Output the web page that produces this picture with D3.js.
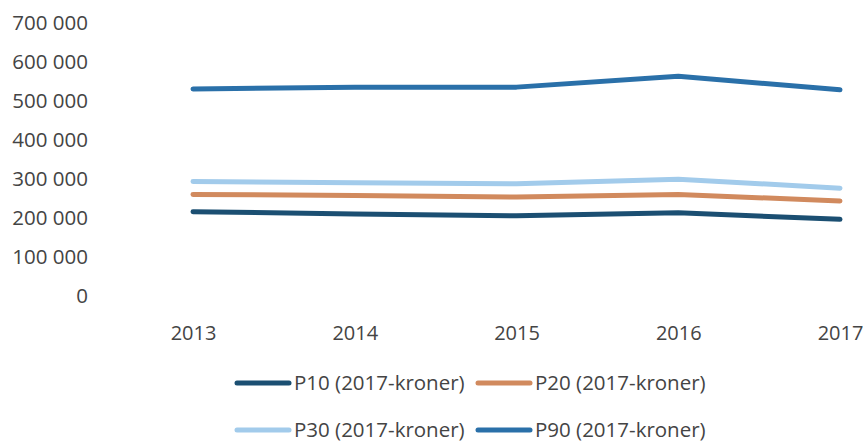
<!DOCTYPE html>
<head>
  <meta charset="utf-8">
  <script src="https://cdn.jsdelivr.net/npm/d3@7"></script>
  <style>
    body { margin: 0; background: #fff; }
    text { font-family: "Open Sans", sans-serif; fill: #444; }
  </style>
</head>
<body>
<svg width="863" height="444"></svg>
<script>
// Data
var years = ["2013", "2014", "2015", "2016", "2017"];
var p10 = [213500, 208000, 203000, 211000, 194000];
var p20 = [258000, 255000, 251000, 258000, 241000];
var p30 = [291000, 288000, 285000, 297000, 274000];
var p90 = [528000, 533000, 533000, 561000, 526000];
var seriesNames = ["P10 (2017-kroner)", "P20 (2017-kroner)", "P30 (2017-kroner)", "P90 (2017-kroner)"];
var yTicks = [0, 100000, 200000, 300000, 400000, 500000, 600000, 700000];

var colors = ["#1b4f72", "#d18a5e", "#a2cbeb", "#2a70a9"];
var series = [p10, p20, p30, p90];

var svg = d3.select("svg");

var x = d3.scalePoint().domain(years).range([193, 840]);
var y = d3.scaleLinear().domain([0, 700000]).range([295, 22]);

var fmt = function(d) { return d3.format(",")(d).replace(/,/g, " "); };

// y axis labels (no line, no ticks)
var yAxis = svg.append("g")
  .attr("transform", "translate(88,0)")
  .call(d3.axisLeft(y).tickValues(yTicks).tickFormat(fmt).tickSize(0).tickPadding(0));
yAxis.select(".domain").remove();
yAxis.selectAll("text").style("font-size", "20.5px").attr("fill", "#474747").attr("dy", "0.35em");

// x axis labels
var xAxis = svg.append("g")
  .attr("transform", "translate(0,326)")
  .call(d3.axisBottom(x).tickSize(0).tickPadding(0));
xAxis.select(".domain").remove();
xAxis.selectAll("text").style("font-size", "20px").attr("fill", "#474747");

// lines
var line = d3.line()
  .x(function(d, i) { return x(years[i]); })
  .y(function(d) { return y(d); });

svg.selectAll(".series")
  .data(series)
  .enter().append("path")
  .attr("class", "series")
  .attr("d", line)
  .attr("fill", "none")
  .attr("stroke", function(d, i) { return colors[i]; })
  .attr("stroke-width", 5)
  .attr("stroke-linecap", "round")
  .attr("stroke-linejoin", "round");

// legend
var legendPos = [[235, 383], [476, 383], [235, 430], [476, 430]];
var legend = svg.selectAll(".legend")
  .data(seriesNames)
  .enter().append("g")
  .attr("class", "legend")
  .attr("transform", function(d, i) { return "translate(" + legendPos[i][0] + "," + legendPos[i][1] + ")"; });

legend.append("line")
  .attr("x1", 2).attr("x2", 54)
  .attr("stroke", function(d, i) { return colors[i]; })
  .attr("stroke-width", 5)
  .attr("stroke-linecap", "round");

legend.append("text")
  .attr("x", 59)
  .attr("dy", "0.35em")
  .style("font-size", "20.5px")
  .attr("fill", "#474747")
  .text(function(d) { return d; });
</script>
</body>
</html>
